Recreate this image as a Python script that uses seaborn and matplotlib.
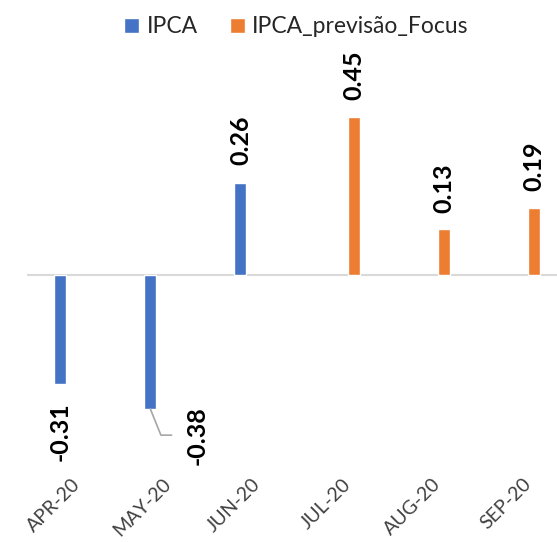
import matplotlib
matplotlib.use("Agg")
import matplotlib.pyplot as plt
import seaborn as sns
import pandas as pd

# dados
meses = ["APR-20", "MAY-20", "JUN-20", "JUL-20", "AUG-20", "SEP-20"]
series = ["IPCA", "IPCA_previsão_Focus"]
ipca = [-0.31, -0.38, 0.26]
focus = [0.45, 0.13, 0.19]
cores = ["#4472C4", "#ED7D31"]

df = pd.DataFrame({
    "mes": meses,
    "serie": [series[0]] * len(ipca) + [series[1]] * len(focus),
    "valor": ipca + focus,
})

sns.set_style("white")
plt.rcParams["font.family"] = ["Lato", "DejaVu Sans"]

W, H = 557, 542
fig = plt.figure(figsize=(W / 100, H / 100), dpi=100)
# eixo vai um pouco alem da borda direita, como no original
ax = fig.add_axes([26.5 / W, (H - 470) / H, 541 / W, 410 / H])

sns.barplot(data=df, x="mes", y="valor", hue="serie", order=meses,
            hue_order=series, palette=cores, saturation=1,
            width=0.51, gap=0.48, dodge=True, ax=ax, legend=True)

ax.set_xlim(-0.5, 5.5)
ax.set_ylim(-0.554, 0.6108)
ax.axhline(0, color="#D9D9D9", lw=1.5, zorder=0)

for s in ax.spines.values():
    s.set_visible(False)
ax.set_yticks([])
ax.set_xlabel("")
ax.set_ylabel("")
ax.tick_params(axis="x", length=0, pad=4)
plt.setp(ax.get_xticklabels(), rotation=45, ha="right", va="top",
         rotation_mode="anchor", color="#404040", fontsize=14)

# rotulos dos valores
lbl = dict(rotation=90, fontsize=18, fontweight="bold", color="black")
c_ipca, c_focus = ax.containers[0], ax.containers[1]
ax.bar_label(c_ipca, labels=[f"{v:.2f}" if i != 1 else "" for i, v in enumerate(ipca)],
             padding=13, **lbl)
ax.bar_label(c_focus, labels=[f"{v:.2f}" for v in focus], padding=12, **lbl)

# maio com linha de chamada
r = c_ipca.patches[1]
ax.annotate(f"{ipca[1]:.2f}", xy=(r.get_x() + r.get_width() / 2, ipca[1]),
            xytext=(34, -19), textcoords="offset points",
            ha="center", va="center", **lbl,
            arrowprops=dict(arrowstyle="-", color="#A6A6A6", lw=1.2,
                            shrinkA=8, shrinkB=0,
                            connectionstyle="angle,angleA=0,angleB=-68,rad=0"))

ax.get_legend().remove()
h, l = ax.get_legend_handles_labels()
fig.legend(h, l, loc="center", bbox_to_anchor=(296.5 / W, 1 - 27 / H),
           ncol=2, frameon=False, fontsize=16.5, handlelength=0.65,
           handleheight=0.65, handletextpad=0.32, columnspacing=1.4)

fig.savefig("out.png", dpi=100)
